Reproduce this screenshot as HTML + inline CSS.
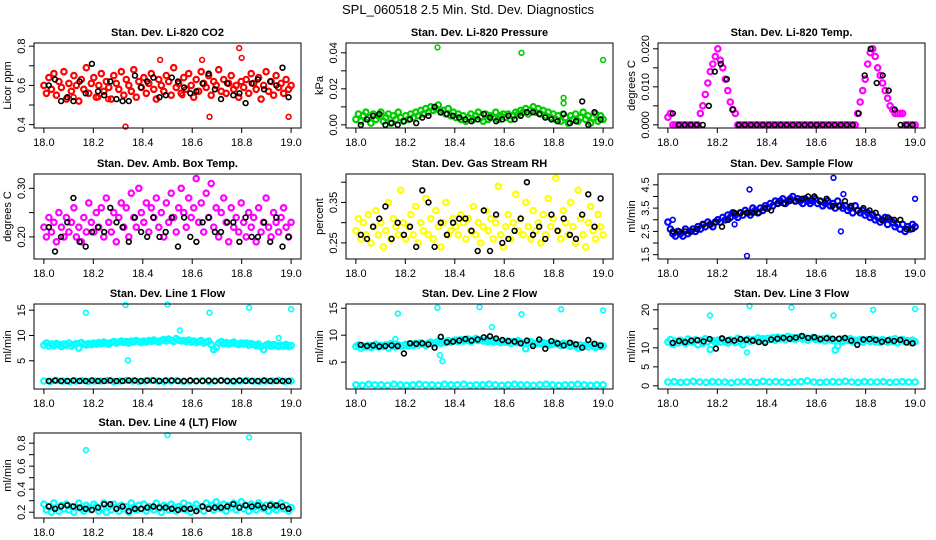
<!DOCTYPE html>
<html><head><meta charset="utf-8">
<style>
html,body{margin:0;padding:0;background:#fff;}
svg{display:block;font-family:"Liberation Sans",Arial,sans-serif;}
</style></head>
<body>
<svg id="chart" width="936" height="540" viewBox="0 0 936 540" xmlns="http://www.w3.org/2000/svg">
<text x="468" y="14" text-anchor="middle" font-size="13">SPL_060518  2.5 Min. Std. Dev. Diagnostics</text>
</svg>
<script>
// ---------- data ----------
const xTicks = [18.0,18.2,18.4,18.6,18.8,19.0];
const xTickLabels = ["18.0","18.2","18.4","18.6","18.8","19.0"];

const co2Main = [0.60,0.56,0.64,0.58,0.66,0.55,0.62,0.59,0.67,0.53,0.61,0.57,0.65,0.60,0.52,0.63,0.58,0.69,0.56,0.61,0.64,0.54,0.60,0.66,0.57,0.62,0.59,0.53,0.65,0.61,0.58,0.67,0.55,0.63,0.60,0.57,0.68,0.54,0.62,0.59,0.64,0.56,0.61,0.66,0.58,0.53,0.63,0.60,0.57,0.65,0.62,0.55,0.69,0.59,0.61,0.56,0.64,0.58,0.66,0.60,0.54,0.63,0.57,0.67,0.61,0.59,0.65,0.55,0.62,0.60,0.68,0.57,0.63,0.56,0.61,0.65,0.58,0.60,0.54,0.62,0.59,0.63,0.56,0.66,0.61,0.58,0.64,0.53,0.60,0.67,0.57,0.62,0.55,0.65,0.59,0.61,0.56,0.63,0.58,0.60];
const co2OutX = [18.12,18.22,18.26,18.33,18.56,18.67,18.79,18.80,18.99,18.47,18.64];
const co2OutY = [0.54,0.54,0.53,0.39,0.55,0.44,0.79,0.74,0.44,0.73,0.73];
const co2Ref = [0.60,0.63,0.52,0.54,0.52,0.62,0.56,0.71,0.57,0.55,0.62,0.53,0.52,0.52,0.65,0.59,0.62,0.64,0.54,0.55,0.64,0.62,0.59,0.56,0.57,0.61,0.66,0.58,0.53,0.61,0.55,0.56,0.51,0.61,0.63,0.58,0.62,0.60,0.69,0.54];

const presMain = [0.003,0.006,0.002,0.005,0.007,0.004,0.001,0.006,0.003,0.005,0.007,0.002,0.004,0.006,0.001,0.005,0.003,0.007,0.004,0.002,0.005,0.003,0.006,0.004,0.007,0.005,0.008,0.006,0.009,0.007,0.010,0.008,0.009,0.011,0.007,0.008,0.006,0.009,0.005,0.007,0.004,0.006,0.003,0.005,0.002,0.004,0.006,0.003,0.005,0.007,0.004,0.002,0.006,0.003,0.005,0.004,0.007,0.003,0.005,0.006,0.004,0.006,0.003,0.005,0.007,0.006,0.008,0.007,0.009,0.006,0.008,0.010,0.007,0.009,0.006,0.008,0.005,0.007,0.004,0.006,0.003,0.005,0.002,0.006,0.004,0.001,0.005,0.003,0.006,0.002,0.004,0.007,0.003,0.005,0.001,0.004,0.006,0.002,0.005,0.003];
const presOutX = [18.33,18.67,19.0,18.84,18.84];
const presOutY = [0.043,0.040,0.036,0.015,0.012];
const presRef = [0.000,0.003,0.005,0.006,0.000,0.001,0.000,0.002,0.003,0.001,0.004,0.005,0.010,0.007,0.006,0.005,0.004,0.003,0.002,0.003,0.006,0.004,0.002,0.003,0.005,0.003,0.005,0.007,0.007,0.006,0.004,0.003,0.002,0.006,0.001,0.002,0.013,0.000,0.007,0.003];

const tempMain = [0.002,0.003,0,0,0,0,0,0,0,0, 0,0,0,0.003,0.005,0.008,0.011,0.014,0.016,0.018, 0.020,0.017,0.015,0.012,0.009,0.006,0.004,0.003,0,0, 0,0,0,0,0,0,0,0,0,0, 0,0,0,0,0,0,0,0,0,0, 0,0,0,0,0,0,0,0,0,0, 0,0,0,0,0,0,0,0,0,0, 0,0,0,0,0,0,0.003,0.006,0.009,0.012, 0.016,0.019,0.020,0.018,0.015,0.013,0.011,0.009,0.007,0.005, 0.004,0.003,0.003,0.003,0.003,0,0,0,0,0];
const tempOutX = [];
const tempOutY = [];
const tempRef = [0.003,0,0,0,0,0,0.005,0.014,0.016,0.012,0.004,0,0,0,0,0,0,0,0,0,0,0,0,0,0,0,0,0,0,0,0,0.003,0.013,0.020,0.011,0.013,0.009,0.004,0,0,0];

const boxMain = [0.22,0.20,0.24,0.21,0.23,0.19,0.25,0.22,0.20,0.24,0.21,0.23,0.26,0.20,0.22,0.19,0.24,0.21,0.27,0.23,0.21,0.25,0.22,0.26,0.20,0.28,0.23,0.21,0.25,0.19,0.24,0.27,0.22,0.26,0.20,0.29,0.24,0.22,0.30,0.25,0.23,0.27,0.21,0.26,0.24,0.28,0.22,0.25,0.20,0.27,0.23,0.29,0.24,0.21,0.26,0.30,0.25,0.22,0.28,0.24,0.26,0.32,0.23,0.27,0.21,0.29,0.24,0.31,0.22,0.26,0.20,0.25,0.28,0.23,0.19,0.26,0.22,0.24,0.21,0.27,0.23,0.20,0.25,0.22,0.24,0.19,0.26,0.21,0.23,0.28,0.22,0.20,0.25,0.23,0.21,0.24,0.26,0.22,0.20,0.23];
const boxOutX = [];
const boxOutY = [];
const boxRef = [0.22,0.17,0.20,0.23,0.28,0.19,0.18,0.21,0.22,0.21,0.26,0.23,0.22,0.19,0.24,0.21,0.20,0.24,0.20,0.21,0.24,0.18,0.24,0.20,0.19,0.23,0.24,0.21,0.21,0.23,0.23,0.19,0.24,0.20,0.20,0.23,0.19,0.24,0.18,0.20];

const rhMain = [0.28,0.31,0.26,0.30,0.27,0.32,0.25,0.29,0.33,0.27,0.30,0.24,0.28,0.35,0.26,0.31,0.29,0.27,0.38,0.30,0.26,0.29,0.32,0.27,0.34,0.25,0.30,0.28,0.36,0.27,0.31,0.26,0.33,0.29,0.24,0.30,0.35,0.27,0.28,0.31,0.29,0.27,0.32,0.30,0.26,0.31,0.28,0.34,0.27,0.30,0.25,0.29,0.33,0.28,0.31,0.26,0.30,0.39,0.27,0.24,0.29,0.32,0.26,0.30,0.37,0.28,0.31,0.27,0.35,0.29,0.26,0.33,0.28,0.30,0.25,0.32,0.27,0.36,0.29,0.31,0.41,0.28,0.26,0.33,0.30,0.27,0.35,0.29,0.25,0.38,0.31,0.27,0.24,0.30,0.34,0.28,0.26,0.32,0.29,0.27];
const rhOutX = [];
const rhOutY = [];
const rhRef = [0.27,0.26,0.29,0.31,0.34,0.26,0.30,0.27,0.29,0.24,0.38,0.35,0.24,0.30,0.27,0.30,0.31,0.31,0.28,0.23,0.33,0.23,0.32,0.25,0.26,0.28,0.31,0.40,0.27,0.29,0.26,0.32,0.28,0.31,0.27,0.26,0.32,0.37,0.29,0.36];

const sfMain = [2.9,2.6,2.4,2.3,2.5,2.4,2.3,2.6,2.4,2.5,2.6,2.5,2.7,2.6,2.8,2.7,2.9,2.8,2.7,2.9,3.0,2.9,3.1,3.0,3.2,3.1,3.3,3.2,3.1,3.3,3.2,3.4,3.3,3.2,3.5,3.4,3.3,3.5,3.4,3.6,3.5,3.7,3.6,3.8,3.7,3.8,3.9,3.7,3.8,3.9,4.0,3.8,3.9,3.8,3.7,3.9,3.8,3.7,3.8,3.9,3.7,3.8,3.6,3.7,3.8,3.6,3.7,3.5,3.8,3.6,3.5,3.6,3.4,3.5,3.3,3.6,3.4,3.3,3.4,3.2,3.3,3.1,3.2,3.0,3.1,2.9,3.0,3.1,2.8,3.0,2.9,2.7,2.8,2.6,2.8,2.5,2.7,2.6,2.8,2.7];
const sfOutX = [18.32,18.33,18.67,18.70,18.71,19.0,18.27,18.02];
const sfOutY = [1.45,4.3,4.8,2.5,4.1,3.9,2.8,3.0];
const sfRef = [2.5,2.5,2.5,2.5,2.6,2.8,2.8,2.9,2.7,3.0,3.3,3.3,3.3,3.3,3.3,3.5,3.4,3.7,3.7,3.8,3.8,3.9,4.0,4.0,3.8,3.9,3.6,3.6,3.8,3.6,3.4,3.5,3.4,3.3,3.0,3.1,3.0,3.0,2.6,2.6];

const l1Main = [8.1,8.5,7.9,8.3,8.0,8.4,8.2,7.8,8.3,8.1,8.5,7.9,8.2,8.4,7.5,8.6,8.3,8.1,8.4,8.2,8.5,8.3,8.6,8.4,8.7,8.5,8.3,8.6,8.8,8.5,8.7,8.9,8.6,8.8,8.5,8.9,8.7,9.0,8.8,8.6,8.9,8.7,9.0,8.8,9.1,8.9,8.7,9.0,9.2,8.9,9.3,9.0,8.8,9.4,9.1,8.9,9.0,8.8,9.1,8.7,8.9,8.6,8.8,9.0,8.5,8.7,8.9,8.2,7.2,7.6,8.5,8.8,8.4,8.6,8.3,8.5,8.7,8.4,8.2,8.5,8.3,8.5,8.1,8.4,8.2,8.0,8.3,7.8,7.2,8.1,8.3,7.9,8.2,8.0,7.8,8.1,7.9,8.2,7.8,8.0];
const l1Low = [1.0,0.9,1.1,1.0,0.9,1.0,1.1,0.9,1.0,1.0,1.1,0.9,1.0,1.1,1.0,0.9,1.0,1.1,1.0,0.9,1.0,1.1,0.9,1.0,1.0,1.1,0.9,1.0,1.1,1.0,0.9,1.0,1.1,1.0,0.9,1.0,1.0,1.1,0.9,1.0];
const l1OutX = [18.17,18.33,18.5,18.67,18.83,19.0,18.55,18.34,18.95];
const l1OutY = [14.5,16.0,16.1,14.5,15.5,15.2,11.0,5.1,9.5];
const l1Ref = [1.0,1.1,1.0,1.0,1.1,1.0,1.0,1.1,1.0,1.0,1.1,1.0,1.0,1.1,1.1,1.0,1.1,1.1,1.0,1.1,1.1,1.0,1.0,1.1,1.0,1.0,1.1,1.0,1.1,1.0,1.0,1.1,1.0,1.0,1.0,1.1,1.0,1.0,1.0,1.0];

const l2Main = [7.9,8.2,7.6,8.0,7.8,8.1,7.7,8.0,8.3,7.8,8.1,7.9,8.2,7.6,8.4,8.0,7.8,8.2,7.9,8.1,8.3,8.0,8.4,8.1,8.5,8.2,8.6,8.3,8.1,8.5,8.7,8.4,8.6,8.9,8.5,8.8,8.6,9.0,8.7,8.9,9.1,8.8,9.2,8.9,9.0,9.3,8.8,9.1,9.4,9.0,9.2,8.9,9.1,8.8,9.0,8.7,9.0,8.8,8.6,8.9,8.7,8.9,8.5,8.8,8.6,9.0,8.7,8.4,7.5,8.6,8.8,8.3,8.5,8.7,8.4,8.6,8.3,8.5,8.2,8.4,8.6,8.3,8.1,8.5,8.2,8.4,7.9,8.3,8.0,7.6,8.2,7.9,8.1,7.8,8.3,8.0,7.7,8.1,7.9,8.0];
const l2Low = [0.8,0.7,0.9,0.8,0.8,0.7,0.9,0.8,0.7,0.8,0.9,0.8,0.8,0.7,0.9,0.8,0.8,0.9,0.7,0.8,0.8,0.9,0.8,0.7,0.8,0.9,0.8,0.8,0.7,0.8,0.9,0.8,0.7,0.8,0.8,0.9,0.8,0.7,0.8,0.8];
const l2OutX = [18.17,18.33,18.5,18.67,18.83,19.0,18.55,18.34,18.35,18.16];
const l2OutY = [14.0,15.1,15.2,13.9,14.8,14.6,11.5,6.3,5.2,9.3];
const l2Ref = [8.2,8.0,8.1,7.9,8.0,8.1,8.0,6.6,8.5,8.4,8.5,8.3,7.7,9.7,8.7,8.8,9.0,9.3,9.0,9.2,9.6,9.8,9.4,9.1,8.9,8.8,8.5,9.0,8.0,9.2,7.5,8.9,8.5,8.1,8.6,8.3,7.7,9.1,8.4,8.1];

const l3Main = [11.5,12.2,10.9,11.8,11.3,12.0,11.6,11.1,12.3,11.7,11.4,12.1,10.8,11.9,11.2,12.4,11.6,9.6,11.9,11.4,12.0,11.5,12.2,11.7,11.3,12.1,11.8,11.4,12.5,11.6,10.8,12.0,12.3,11.7,12.2,11.9,12.6,12.1,12.4,11.8,12.5,12.2,12.7,12.0,12.8,12.3,12.6,12.1,13.0,12.4,12.7,12.2,12.5,12.9,12.3,12.6,12.0,12.4,12.7,12.2,12.5,12.1,12.4,11.8,12.6,12.2,11.9,9.4,10.5,12.3,11.7,12.1,11.9,12.4,11.6,12.0,11.8,12.2,11.5,11.9,12.1,11.7,12.3,11.6,12.0,11.4,12.2,11.8,11.5,12.1,11.7,12.4,11.3,11.9,12.2,11.6,11.9,11.4,12.0,11.6];
const l3Low = [1.0,1.1,0.9,1.0,1.2,1.0,0.9,1.1,1.0,1.0,0.8,1.0,1.1,1.0,0.9,1.2,1.0,1.1,1.0,0.9,1.0,1.1,1.3,1.0,0.9,1.0,1.1,1.0,1.2,1.0,0.9,1.1,1.0,1.0,1.1,0.9,1.0,1.1,1.0,1.0];
const l3OutX = [18.17,18.33,18.5,18.67,18.83,19.0,18.32];
const l3OutY = [18.5,21.0,20.6,18.5,20.0,20.2,8.8];
const l3Ref = [11.3,11.8,11.5,11.9,12.0,11.7,12.3,9.8,12.5,12.0,11.9,12.3,12.1,11.9,11.5,11.3,12.2,12.4,12.6,12.4,12.7,13.1,12.6,12.8,12.3,12.5,12.4,12.4,12.6,11.9,10.8,12.2,12.3,12.1,11.6,12.0,11.8,12.1,11.4,11.2];

const l4Main = [0.27,0.22,0.25,0.20,0.28,0.24,0.21,0.26,0.23,0.27,0.22,0.25,0.20,0.24,0.28,0.23,0.21,0.26,0.24,0.22,0.27,0.25,0.21,0.23,0.28,0.20,0.25,0.22,0.27,0.24,0.21,0.26,0.23,0.25,0.20,0.28,0.24,0.22,0.26,0.23,0.27,0.21,0.25,0.24,0.22,0.28,0.23,0.20,0.26,0.25,0.22,0.27,0.24,0.21,0.25,0.23,0.28,0.22,0.26,0.20,0.24,0.27,0.23,0.25,0.21,0.28,0.24,0.26,0.22,0.29,0.25,0.23,0.27,0.21,0.26,0.24,0.28,0.22,0.25,0.29,0.23,0.26,0.21,0.27,0.24,0.22,0.28,0.25,0.23,0.26,0.21,0.27,0.24,0.22,0.25,0.28,0.23,0.26,0.21,0.24];
const l4OutX = [18.17,18.5,18.83];
const l4OutY = [0.74,0.87,0.85];
const l4Ref = [0.25,0.23,0.25,0.26,0.25,0.24,0.23,0.22,0.24,0.27,0.27,0.23,0.25,0.21,0.23,0.23,0.24,0.25,0.24,0.24,0.23,0.22,0.23,0.23,0.21,0.25,0.23,0.24,0.24,0.25,0.27,0.24,0.26,0.25,0.26,0.24,0.26,0.26,0.25,0.23];

// ---------- layout (not data) ----------
const panels = [
 {name:"co2",title:"Stan. Dev. Li-820 CO2",ylab:"Licor ppm",col:0,row:0,color:"#ff0000",main:co2Main,low:null,ox:co2OutX,oy:co2OutY,ref:co2Ref,ylim:[0.399,0.80],yt:[0.4,0.5,0.6,0.7,0.8],yl:["0.4","","0.6","","0.8"]},
 {name:"pressure",title:"Stan. Dev. Li-820 Pressure",ylab:"kPa",col:1,row:0,color:"#00cd00",main:presMain,low:null,ox:presOutX,oy:presOutY,ref:presRef,ylim:[0.0,0.0437],yt:[0,0.01,0.02,0.03,0.04],yl:["0.00","","0.02","","0.04"]},
 {name:"temp",title:"Stan. Dev. Li-820 Temp.",ylab:"degrees C",col:2,row:0,color:"#ff00ff",main:tempMain,low:null,ox:tempOutX,oy:tempOutY,ref:tempRef,ylim:[0.0,0.0207],yt:[0,0.005,0.01,0.015,0.02],yl:["0.000","","0.010","","0.020"]},
 {name:"amb-box-temp",title:"Stan. Dev. Amb. Box Temp.",ylab:"degrees C",col:0,row:1,color:"#ff00ff",main:boxMain,low:null,ox:boxOutX,oy:boxOutY,ref:boxRef,ylim:[0.161,0.323],yt:[0.2,0.25,0.3],yl:["0.20","","0.30"]},
 {name:"gas-stream-rh",title:"Stan. Dev. Gas Stream RH",ylab:"percent",col:1,row:1,color:"#ffff00",main:rhMain,low:null,ox:rhOutX,oy:rhOutY,ref:rhRef,ylim:[0.218,0.4125],yt:[0.25,0.3,0.35,0.4],yl:["0.25","","0.35",""]},
 {name:"sample-flow",title:"Stan. Dev. Sample Flow",ylab:"ml/min",col:2,row:1,color:"#0000ff",main:sfMain,low:null,ox:sfOutX,oy:sfOutY,ref:sfRef,ylim:[1.45,4.83],yt:[1.5,2,2.5,3,3.5,4,4.5],yl:["1.5","","2.5","","3.5","","4.5"]},
 {name:"line1-flow",title:"Stan. Dev. Line 1 Flow",ylab:"ml/min",col:0,row:2,color:"#00ffff",main:l1Main,low:l1Low,ox:l1OutX,oy:l1OutY,ref:l1Ref,ylim:[0.04,15.6],yt:[5,10,15],yl:["5","10","15"]},
 {name:"line2-flow",title:"Stan. Dev. Line 2 Flow",ylab:"ml/min",col:1,row:2,color:"#00ffff",main:l2Main,low:l2Low,ox:l2OutX,oy:l2OutY,ref:l2Ref,ylim:[0.6,15.2],yt:[5,10,15],yl:["5","10","15"]},
 {name:"line3-flow",title:"Stan. Dev. Line 3 Flow",ylab:"ml/min",col:2,row:2,color:"#00ffff",main:l3Main,low:l3Low,ox:l3OutX,oy:l3OutY,ref:l3Ref,ylim:[0.0,20.7],yt:[0,5,10,15,20],yl:["0","5","10","","20"]},
 {name:"line4-flow",title:"Stan. Dev. Line 4 (LT) Flow",ylab:"ml/min",col:0,row:3,color:"#00ffff",main:l4Main,low:null,ox:l4OutX,oy:l4OutY,ref:l4Ref,ylim:[0.177,0.861],yt:[0.2,0.3,0.4,0.5,0.6,0.7,0.8],yl:["0.2","","0.4","","0.6","","0.8"]}
];
const colLeft = [34,346,658];
const rowTop = [43,174,304,433];
const BW = 267, BH = 85;

const NS = "http://www.w3.org/2000/svg";
const svg = document.getElementById("chart");
function mk(tag, attrs, parent){
  const e = document.createElementNS(NS, tag);
  for (const k in attrs) e.setAttribute(k, attrs[k]);
  (parent||svg).appendChild(e);
  return e;
}
function evenX(i,n){ return 18 + i/(n-1); }

panels.forEach(p=>{
  const L = colLeft[p.col], T = rowTop[p.row], R = L+BW, B = T+BH;
  const g = mk("g",{});
  
  
  const xs = v => L + (BW/1.08)*0.04 + (v-18)*(BW/1.08);
  const yr = p.ylim[1]-p.ylim[0];
  const ys = v => B - (BH/1.08)*0.04 - (v-p.ylim[0])/yr*(BH/1.08);

  const t = mk("text",{x:(L+R)/2,y:T-7,"text-anchor":"middle","font-size":"11","font-weight":"bold"},g);
  t.textContent = p.title;
  
  

  const pts = mk("g",{fill:"none"},g);
  
  
  function dot(x,y,c,nm,sw,r){
    const c1 = mk("circle",{cx:xs(x).toFixed(1),cy:ys(y).toFixed(1),r:r,stroke:c,"stroke-width":sw},pts);
    
    
  }
  p.main.forEach((v,i)=>dot(evenX(i,p.main.length),v,p.color,'point-main',"2.2","2.7"));
  if (p.low) p.low.forEach((v,i)=>dot(evenX(i,p.low.length),v,p.color,'point-low',"2.2","2.7"));
  p.ox.forEach((x,i)=>dot(x,p.oy[i],p.color,'point-outlier',"1.6","2.4"));
  p.ref.forEach((v,i)=>dot(18.02+0.97*i/(p.ref.length-1),v,"#000",'point-reference',"1.6","2.4"));

  const bx = mk("rect",{x:L,y:T,width:BW,height:BH,fill:"none",stroke:"#000","stroke-width":"1"},g);
  
  

  const xa = mk("g",{},g);
  
  
  mk("line",{x1:xs(xTicks[0]),x2:xs(xTicks[xTicks.length-1]),y1:B,y2:B,stroke:"#000"},xa);
  xTicks.forEach((v,i)=>{
    mk("line",{x1:xs(v),x2:xs(v),y1:B,y2:B+5,stroke:"#000"},xa);
    const tl = mk("text",{x:xs(v),y:B+18,"text-anchor":"middle","font-size":"11"},xa);
    tl.textContent = xTickLabels[i];
    
    
  });
  const ya = mk("g",{},g);
  
  
  mk("line",{x1:L,x2:L,y1:ys(p.yt[0]),y2:ys(p.yt[p.yt.length-1]),stroke:"#000"},ya);
  p.yt.forEach((v,i)=>{
    mk("line",{x1:L-5,x2:L,y1:ys(v),y2:ys(v),stroke:"#000"},ya);
    if (p.yl[i]){
      const yy = ys(v), xx = L-9;
      const tl = mk("text",{x:xx,y:yy,"text-anchor":"middle","font-size":"11",transform:`rotate(-90 ${xx} ${yy})`},ya);
      tl.textContent = p.yl[i];
      
      
    }
  });
  const yx = L-23, yy = (T+B)/2;
  const yt = mk("text",{x:yx,y:yy,"text-anchor":"middle","font-size":"11",transform:`rotate(-90 ${yx} ${yy})`},g);
  yt.textContent = p.ylab;
  
  
});
</script>
</body></html>
